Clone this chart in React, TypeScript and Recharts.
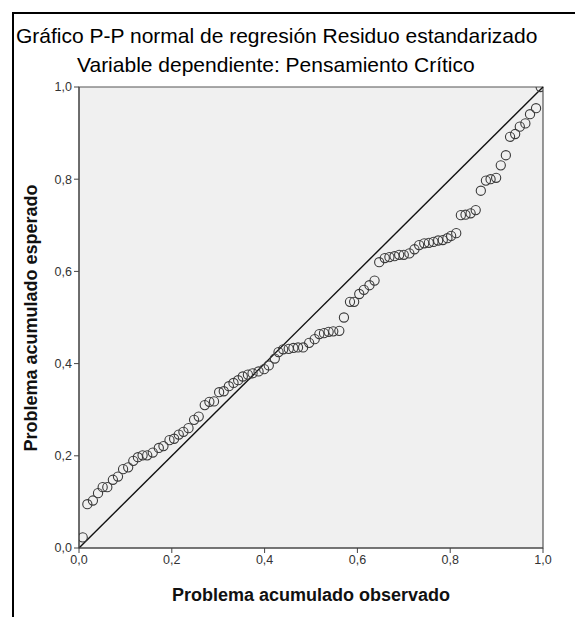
import {
  ScatterChart,
  Scatter,
  XAxis,
  YAxis,
  ReferenceArea,
  ReferenceLine,
} from "recharts";

// Probabilidad acumulada observada (eje X)
const observed = [
  0.008, 0.018, 0.03, 0.041, 0.051, 0.061, 0.073, 0.084, 0.095, 0.106,
  0.117, 0.127, 0.137, 0.147, 0.159, 0.172, 0.182, 0.195, 0.205, 0.215,
  0.225, 0.236, 0.248, 0.258, 0.271, 0.281, 0.291, 0.302, 0.312, 0.323,
  0.333, 0.343, 0.353, 0.364, 0.374, 0.387, 0.399, 0.409, 0.422, 0.43,
  0.44, 0.452, 0.462, 0.472, 0.483, 0.496, 0.508, 0.518, 0.528, 0.538,
  0.548, 0.561, 0.571, 0.584, 0.593, 0.604, 0.614, 0.626, 0.637, 0.647,
  0.659, 0.669, 0.68, 0.69, 0.7, 0.712, 0.723, 0.733, 0.744, 0.754,
  0.764, 0.774, 0.784, 0.794, 0.802, 0.813, 0.823, 0.833, 0.844, 0.855,
  0.866, 0.877, 0.887, 0.899, 0.909, 0.92, 0.929, 0.94, 0.95, 0.962,
  0.972, 0.985, 0.995,
];

// Probabilidad acumulada esperada (eje Y)
const expected = [
  0.023, 0.095, 0.103, 0.119, 0.132, 0.132, 0.148, 0.155, 0.171, 0.175,
  0.189, 0.197, 0.201, 0.201, 0.207, 0.217, 0.221, 0.234, 0.237, 0.246,
  0.252, 0.26, 0.278, 0.285, 0.31, 0.317, 0.318, 0.338, 0.34, 0.351,
  0.358, 0.364, 0.372, 0.376, 0.379, 0.383, 0.388, 0.396, 0.411, 0.425,
  0.431, 0.432, 0.434, 0.435, 0.435, 0.445, 0.453, 0.464, 0.466, 0.469,
  0.47, 0.471, 0.5, 0.534, 0.534, 0.551, 0.56, 0.57, 0.58, 0.62,
  0.629, 0.631, 0.633, 0.636, 0.636, 0.639, 0.648, 0.657, 0.661, 0.662,
  0.664, 0.667, 0.668, 0.672, 0.677, 0.683, 0.722, 0.723, 0.726, 0.733,
  0.775, 0.797, 0.8, 0.803, 0.83, 0.852, 0.892, 0.898, 0.914, 0.921,
  0.941, 0.954, 1.0,
];

const ticks = [0, 0.2, 0.4, 0.6, 0.8, 1];
const tickLabels = ["0,0", "0,2", "0,4", "0,6", "0,8", "1,0"];

const data = observed.map((x, i) => ({ x, y: expected[i] }));

const font = "'Liberation Sans', Arial, sans-serif";

const fmt = (v: number) => tickLabels[ticks.indexOf(v)] ?? String(v);

const Ring = (props: any) => (
  <circle
    cx={props.cx}
    cy={props.cy}
    r={4.6}
    fill="none"
    stroke="#3a3a3a"
    strokeWidth={1.1}
  />
);

export default function App() {
  return (
    <div
      style={{
        position: "absolute",
        left: 0,
        top: 0,
        width: 575,
        height: 617,
        background: "#fff",
        fontFamily: font,
      }}
    >
      <ScatterChart
        width={575}
        height={617}
        margin={{ top: 87, right: 32, bottom: 39, left: 49 }}
      >
        <ReferenceArea
          x1={0}
          x2={1}
          y1={0}
          y2={1}
          fill="#f0f0f0"
          fillOpacity={1}
          stroke="#555"
          strokeWidth={1.2}
        />
        <XAxis
          type="number"
          dataKey="x"
          domain={[0, 1]}
          ticks={ticks}
          tickFormatter={fmt}
          allowDataOverflow
          height={30}
          tickSize={5}
          stroke="#444"
          tick={{ fill: "#333", fontSize: 12.5, fontFamily: font }}
        />
        <YAxis
          type="number"
          dataKey="y"
          domain={[0, 1]}
          ticks={ticks}
          tickFormatter={fmt}
          allowDataOverflow
          width={30}
          tickSize={5}
          stroke="#444"
          tick={{ fill: "#333", fontSize: 12.5, fontFamily: font }}
        />
        <ReferenceLine
          segment={[
            { x: 0, y: 0 },
            { x: 1, y: 1 },
          ]}
          stroke="#111"
          strokeWidth={1.4}
        />
        <Scatter data={data} shape={Ring} isAnimationActive={false} />
      </ScatterChart>
      <svg
        width={575}
        height={617}
        style={{ position: "absolute", left: 0, top: 0, pointerEvents: "none" }}
      >
        <path d="M13 617 V13 H575" fill="none" stroke="#000" strokeWidth={2} />
        <text x={16} y={43} fontSize={21} fontFamily={font} fill="#000">
          Gráfico P-P normal de regresión Residuo estandarizado
        </text>
        <text x={77} y={72} fontSize={21} fontFamily={font} fill="#000">
          Variable dependiente: Pensamiento Crítico
        </text>
        <text
          x={311}
          y={601}
          fontSize={18}
          fontWeight="bold"
          fontFamily={font}
          textAnchor="middle"
          fill="#111"
        >
          Problema acumulado observado
        </text>
        <text
          transform="translate(37 318) rotate(-90)"
          fontSize={18}
          fontWeight="bold"
          fontFamily={font}
          textAnchor="middle"
          fill="#111"
        >
          Problema acumulado esperado
        </text>
      </svg>
    </div>
  );
}
